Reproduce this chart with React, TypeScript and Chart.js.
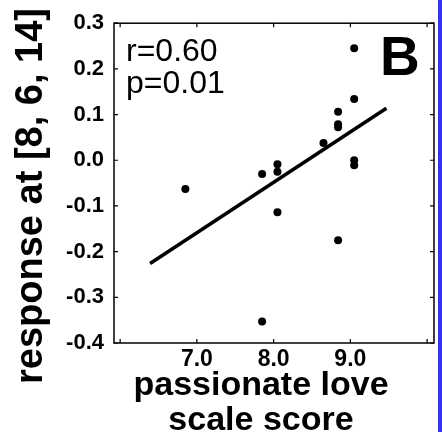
import { useEffect, useRef } from "react";
import { Chart, registerables } from "chart.js";

Chart.register(...registerables);

// Passionate love scale score vs. response, one point per subject
const loveScore = [6.85, 9.05, 9.05, 8.84, 8.84, 8.84, 8.65, 7.85, 8.05, 8.05, 9.05, 9.05, 8.05, 8.84, 7.85];
const response = [-0.063, 0.245, 0.134, 0.106, 0.079, 0.072, 0.038, -0.03, -0.009, -0.025, 0.0, -0.011, -0.114, -0.175, -0.353];

// Least-squares fit line end points
const fitX = [6.39, 9.47];
const fitY = [-0.226, 0.114];

const xTicks = [6, 7, 8, 9, 10];
const xTickLabels = ["", "7.0", "8.0", "9.0", ""];
const yTicks = [-0.4, -0.3, -0.2, -0.1, 0, 0.1, 0.2, 0.3];

const statLines = ["r=0.60", "p=0.01"];
const panelLetter = "B";
const xTitle = ["passionate love", "scale score"];
const yTitle = "response at [8, 6, 14]";

const FAMILY = "'Liberation Sans', Arial, Helvetica, sans-serif";

const framePlugin = {
  id: "frame",
  beforeDatasetsDraw(chart: any) {
    const { ctx, chartArea: a, scales } = chart;
    ctx.save();
    ctx.strokeStyle = "#000";
    ctx.lineWidth = 1.5;
    ctx.strokeRect(a.left, a.top, a.right - a.left, a.bottom - a.top);
    ctx.lineWidth = 1.2;
    ctx.beginPath();
    for (const v of xTicks) {
      const px = scales.x.getPixelForValue(v);
      ctx.moveTo(px, a.bottom);
      ctx.lineTo(px, a.bottom - 4);
      ctx.moveTo(px, a.top);
      ctx.lineTo(px, a.top + 4);
    }
    for (const v of yTicks) {
      const py = scales.y.getPixelForValue(v);
      ctx.moveTo(a.left, py);
      ctx.lineTo(a.left + 4, py);
      ctx.moveTo(a.right, py);
      ctx.lineTo(a.right - 4, py);
    }
    ctx.stroke();
    ctx.restore();
  },
  afterDraw(chart: any) {
    const { ctx, chartArea: a } = chart;
    ctx.save();
    ctx.fillStyle = "#000";

    // correlation statistics
    ctx.font = `32px ${FAMILY}`;
    ctx.textAlign = "left";
    ctx.textBaseline = "alphabetic";
    statLines.forEach((t, i) => ctx.fillText(t, a.left + 12, a.top + 38 + i * 32));

    // panel letter
    ctx.font = `bold 55px ${FAMILY}`;
    ctx.fillText(panelLetter, 380, a.top + 52);

    // x-axis title (two lines)
    ctx.font = `bold 34px ${FAMILY}`;
    ctx.textAlign = "center";
    xTitle.forEach((t, i) => ctx.fillText(t, 261, 395 + i * 35));

    // y-axis title (rotated)
    ctx.font = `bold 38px ${FAMILY}`;
    ctx.translate(42, 196);
    ctx.rotate(-Math.PI / 2);
    ctx.fillText(yTitle, 0, 0);
    ctx.restore();
  },
};

export default function App() {
  const canvasRef = useRef<HTMLCanvasElement | null>(null);

  useEffect(() => {
    if (!canvasRef.current) return;
    const chart = new Chart(canvasRef.current, {
      type: "scatter",
      data: {
        datasets: [
          {
            type: "line",
            data: fitX.map((x, i) => ({ x, y: fitY[i] })),
            borderColor: "#000",
            borderWidth: 3.5,
            pointRadius: 0,
            fill: false,
          } as any,
          {
            data: loveScore.map((x, i) => ({ x, y: response[i] })),
            backgroundColor: "#000",
            borderWidth: 0,
            pointRadius: 4,
          },
        ],
      },
      options: {
        animation: false,
        responsive: false,
        devicePixelRatio: 1,
        layout: { padding: { top: 23, right: 8, left: 0, bottom: 0 } },
        plugins: { legend: { display: false }, tooltip: { enabled: false } },
        scales: {
          x: {
            type: "linear",
            position: "bottom",
            min: 5.92,
            max: 10.09,
            grid: { display: false, drawTicks: false },
            border: { display: false },
            afterBuildTicks: (s: any) => {
              s.ticks = xTicks.map((value) => ({ value }));
            },
            afterFit: (s: any) => {
              s.height = 89;
            },
            ticks: {
              autoSkip: false,
              maxRotation: 0,
              minRotation: 0,
              padding: 3,
              color: "#000",
              font: { family: FAMILY, size: 23, weight: "bold" },
              callback: (v: any) => {
                const i = xTicks.indexOf(Number(v));
                return i >= 0 ? xTickLabels[i] : "";
              },
            },
          },
          y: {
            type: "linear",
            min: -0.4,
            max: 0.3,
            grid: { display: false, drawTicks: false },
            border: { display: false },
            afterBuildTicks: (s: any) => {
              s.ticks = yTicks.map((value) => ({ value }));
            },
            afterFit: (s: any) => {
              s.width = 114;
            },
            ticks: {
              autoSkip: false,
              padding: 10,
              color: "#000",
              font: { family: FAMILY, size: 22, weight: "bold" },
              callback: (v: any) => Number(v).toFixed(1),
            },
          },
        },
      },
      plugins: [framePlugin],
    });
    return () => chart.destroy();
  }, []);

  return (
    <div style={{ position: "absolute", left: 0, top: 0, width: 442, height: 432, background: "#fff", overflow: "hidden" }}>
      <canvas ref={canvasRef} width={442} height={432} style={{ display: "block" }} />
      <div style={{ position: "absolute", left: 438, top: 0, width: 4, height: 432, background: "#3434f0" }} />
    </div>
  );
}
